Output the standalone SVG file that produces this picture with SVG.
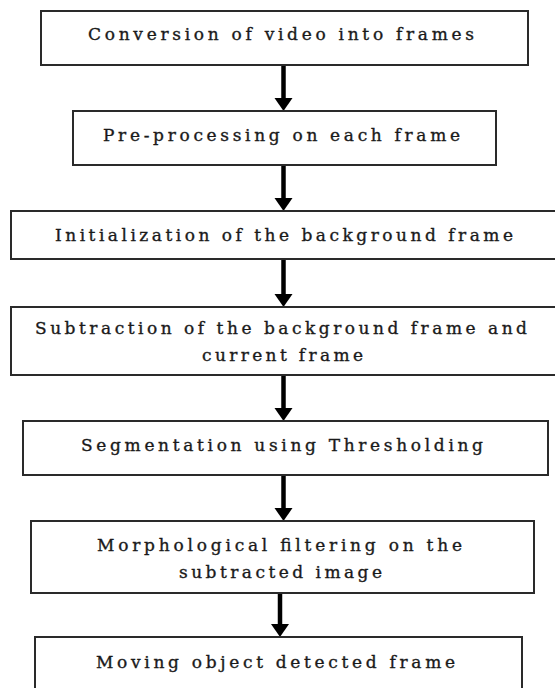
<svg xmlns="http://www.w3.org/2000/svg" width="555" height="688" viewBox="0 0 555 688">
<style>
.box{fill:#fff;stroke:#2a2a2a;stroke-width:2}
.lbl{font-family:"DejaVu Serif","Liberation Serif",serif;font-size:17px;fill:#1a1a1a;stroke:#1a1a1a;stroke-width:0.35}
.arr{stroke:#000;stroke-width:4.5;fill:none;marker-end:url(#ah)}
</style>
<defs>
<marker id="ah" markerUnits="userSpaceOnUse" markerWidth="14" markerHeight="20" refX="0" refY="9" orient="auto" overflow="visible">
<path d="M0,0 L13,9 L0,18 Z" fill="#000"/>
</marker>
</defs>
<rect width="555" height="688" fill="#fff"/>
<g id="connectors">
<line class="arr" x1="283.5" y1="66" x2="283.5" y2="98"/>
<line class="arr" x1="283.5" y1="166" x2="283.5" y2="198"/>
<line class="arr" x1="283.5" y1="260" x2="283.5" y2="294"/>
<line class="arr" x1="283.5" y1="376" x2="283.5" y2="408"/>
<line class="arr" x1="283.5" y1="476" x2="283.5" y2="508"/>
<line class="arr" x1="280" y1="594" x2="280" y2="624"/>
</g>
<g id="n1"><rect class="box" x="41" y="11" width="487" height="54"/><text class="lbl" x="88" y="40" textLength="386" lengthAdjust="spacing">Conversion of video into frames</text></g>
<g id="n2"><rect class="box" x="73" y="111" width="423" height="54"/><text class="lbl" x="103" y="141" textLength="357" lengthAdjust="spacing">Pre-processing on each frame</text></g>
<g id="n3"><rect class="box" x="11" y="211" width="560" height="48"/><text class="lbl" x="55" y="241" textLength="458" lengthAdjust="spacing">Initialization of the background frame</text></g>
<g id="n4"><rect class="box" x="11" y="307" width="560" height="68"/><text class="lbl" x="35" y="334" textLength="492" lengthAdjust="spacing">Subtraction of the background frame and</text><text class="lbl" x="202" y="361" textLength="161" lengthAdjust="spacing">current frame</text></g>
<g id="n5"><rect class="box" x="23" y="421" width="525" height="54"/><text class="lbl" x="81" y="451" textLength="402" lengthAdjust="spacing">Segmentation using Thresholding</text></g>
<g id="n6"><rect class="box" x="31" y="521" width="503" height="72"/><text class="lbl" x="97" y="551" textLength="365" lengthAdjust="spacing">Morphological filtering on the</text><text class="lbl" x="179" y="578" textLength="203" lengthAdjust="spacing">subtracted image</text></g>
<g id="n7"><rect class="box" x="35" y="637" width="487" height="70"/><text class="lbl" x="96" y="668" textLength="359" lengthAdjust="spacing">Moving object detected frame</text></g>
</svg>
